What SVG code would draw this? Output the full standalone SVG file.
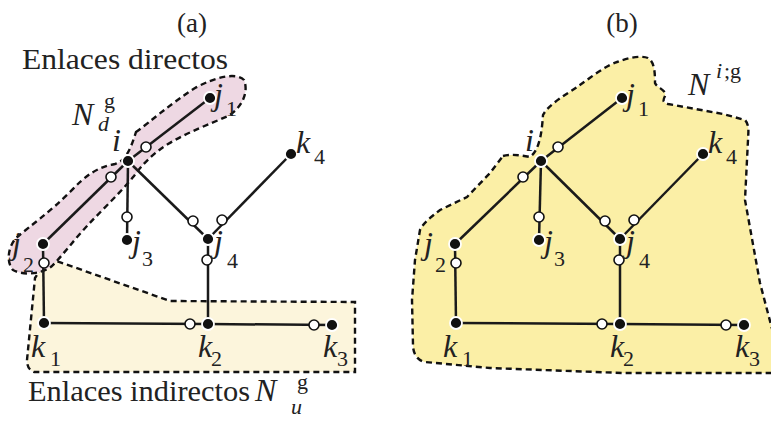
<svg xmlns="http://www.w3.org/2000/svg" width="771" height="423" viewBox="0 0 771 423">
<style>
.edge{stroke:#1a1a1a;stroke-width:2.5;fill:none}
.full{fill:#111;stroke:#fff;stroke-width:1.8}
.open{fill:#fff;stroke:#111;stroke-width:1.6}
.reg{stroke:#111;stroke-width:2.4;stroke-dasharray:6 4}
</style>
<rect width="771" height="423" fill="#fff"/>
<g id="regions">
<path class="reg" fill="#fcf5dc" d="M48,258 L170,301 L355,302 L355,372 L34,372 C29,370 27,366 27,360 L35,278 Z"/>
<path class="reg" fill="#eed8e3" d="M136,132 C150,122 170,104 195,88 C215,77 236,72 244,80 C249,92 242,108 228,116 C210,124 188,132 168,144 C152,154 142,165 134,176 C120,193 102,210 87,226 C74,240 62,256 52,266 C42,274 24,276 13,270 C6,262 8,247 16,238 C30,226 50,212 70,192 C85,176 97,167 115,164 C126,161 131,148 136,132 Z"/>
<path class="reg" fill="#fbefa6" d="M503,156 C510,154 520,155 530,157 C540,150 542,130 543,115 C548,105 565,95 577,87 C590,78 605,66 617,62 C628,58 640,55 648,58 C655,62 655,75 655,83 C657,88 667,90 665,96 C663,100 662,102 668,104 L723,114 L745,120 C750,125 748,135 748,140 L745,200 L760,283 L775,340 L775,373 L623,373 L490,368 L425,362 C416,360 413,352 413,345 L412,300 L415,260 L420,230 C424,222 430,218 440,210 L467,197 L490,173 Z"/>
</g>
<g id="connectors">
<line class="edge" x1="128" y1="161" x2="210" y2="98"/>
<line class="edge" x1="128" y1="161" x2="43" y2="244"/>
<line class="edge" x1="128" y1="161" x2="127" y2="240"/>
<line class="edge" x1="128" y1="161" x2="208" y2="239"/>
<line class="edge" x1="291" y1="154" x2="208" y2="239"/>
<line class="edge" x1="43" y1="244" x2="44" y2="323"/>
<line class="edge" x1="208" y1="239" x2="208" y2="324"/>
<line class="edge" x1="44" y1="323" x2="208" y2="324"/>
<line class="edge" x1="208" y1="324" x2="332" y2="325"/>
<line class="edge" x1="541" y1="161" x2="622" y2="98"/>
<line class="edge" x1="541" y1="161" x2="455" y2="244"/>
<line class="edge" x1="541" y1="161" x2="539" y2="240"/>
<line class="edge" x1="541" y1="161" x2="620" y2="239"/>
<line class="edge" x1="703" y1="154" x2="620" y2="239"/>
<line class="edge" x1="455" y1="244" x2="456" y2="323"/>
<line class="edge" x1="620" y1="239" x2="620" y2="324"/>
<line class="edge" x1="456" y1="323" x2="620" y2="324"/>
<line class="edge" x1="620" y1="324" x2="744" y2="325"/>
<circle class="open" cx="146" cy="147" r="5"/>
<circle class="open" cx="111" cy="177" r="5"/>
<circle class="open" cx="127" cy="217" r="5"/>
<circle class="open" cx="193" cy="221" r="5"/>
<circle class="open" cx="222" cy="220" r="5"/>
<circle class="open" cx="44" cy="263" r="5"/>
<circle class="open" cx="207" cy="260" r="5"/>
<circle class="open" cx="190" cy="324" r="5"/>
<circle class="open" cx="314" cy="325" r="5"/>
<circle class="open" cx="558" cy="147" r="5"/>
<circle class="open" cx="523" cy="177" r="5"/>
<circle class="open" cx="539" cy="217" r="5"/>
<circle class="open" cx="605" cy="221" r="5"/>
<circle class="open" cx="634" cy="220" r="5"/>
<circle class="open" cx="456" cy="263" r="5"/>
<circle class="open" cx="619" cy="260" r="5"/>
<circle class="open" cx="602" cy="324" r="5"/>
<circle class="open" cx="726" cy="325" r="5"/>
</g>
<g font-family="Liberation Serif, Times New Roman, serif" fill="#222">
<g font-style="italic" font-size="32">
<g id="a-i"><circle class="full" cx="128" cy="161" r="6"/><text x="112" y="151">i</text></g>
<g id="a-j1"><circle class="full" cx="210" cy="98" r="6"/><text x="214" y="105">j</text><text x="226" y="116" font-style="normal" font-size="22">1</text></g>
<g id="a-k4"><circle class="full" cx="291" cy="154" r="6"/><text x="296" y="153">k</text><text x="314" y="164" font-style="normal" font-size="22">4</text></g>
<g id="a-j2"><circle class="full" cx="43" cy="244" r="6"/><text x="12" y="254">j</text><text x="23" y="272" font-style="normal" font-size="22">2</text></g>
<g id="a-j3"><circle class="full" cx="127" cy="240" r="6"/><text x="132" y="252">j</text><text x="142" y="266" font-style="normal" font-size="22">3</text></g>
<g id="a-j4"><circle class="full" cx="208" cy="239" r="6"/><text x="214" y="252">j</text><text x="227" y="268" font-style="normal" font-size="22">4</text></g>
<g id="a-k1"><circle class="full" cx="44" cy="323" r="6"/><text x="31" y="357">k</text><text x="50" y="366" font-style="normal" font-size="22">1</text></g>
<g id="a-k2"><circle class="full" cx="208" cy="324" r="6"/><text x="198" y="357">k</text><text x="211" y="366" font-style="normal" font-size="22">2</text></g>
<g id="a-k3"><circle class="full" cx="332" cy="325" r="6"/><text x="323" y="357">k</text><text x="337" y="366" font-style="normal" font-size="22">3</text></g>
<g id="b-i"><circle class="full" cx="541" cy="161" r="6"/><text x="525" y="151">i</text></g>
<g id="b-j1"><circle class="full" cx="622" cy="98" r="6"/><text x="626" y="105">j</text><text x="638" y="116" font-style="normal" font-size="22">1</text></g>
<g id="b-k4"><circle class="full" cx="703" cy="154" r="6"/><text x="708" y="153">k</text><text x="726" y="164" font-style="normal" font-size="22">4</text></g>
<g id="b-j2"><circle class="full" cx="455" cy="244" r="6"/><text x="424" y="254">j</text><text x="435" y="272" font-style="normal" font-size="22">2</text></g>
<g id="b-j3"><circle class="full" cx="539" cy="240" r="6"/><text x="544" y="252">j</text><text x="554" y="266" font-style="normal" font-size="22">3</text></g>
<g id="b-j4"><circle class="full" cx="620" cy="239" r="6"/><text x="626" y="252">j</text><text x="639" y="268" font-style="normal" font-size="22">4</text></g>
<g id="b-k1"><circle class="full" cx="456" cy="323" r="6"/><text x="443" y="357">k</text><text x="462" y="366" font-style="normal" font-size="22">1</text></g>
<g id="b-k2"><circle class="full" cx="620" cy="324" r="6"/><text x="610" y="357">k</text><text x="623" y="366" font-style="normal" font-size="22">2</text></g>
<g id="b-k3"><circle class="full" cx="744" cy="325" r="6"/><text x="735" y="357">k</text><text x="749" y="366" font-style="normal" font-size="22">3</text></g>
<g id="labels-italic">
<text x="72" y="125">N</text><text x="104" y="108" font-style="normal" font-size="22">g</text><text x="98" y="131" font-size="22">d</text>
<text x="255" y="401">N</text><text x="297" y="389" font-style="normal" font-size="22">g</text><text x="291" y="414" font-size="22">u</text>
<text x="688" y="95">N</text><text x="716" y="78" font-size="22">i</text><text x="724" y="78" font-style="normal" font-size="22">;g</text>
</g>
</g>
<g id="labels" font-size="30">
<text x="192" y="32" text-anchor="middle" font-size="27">(a)</text>
<text x="622" y="32" text-anchor="middle" font-size="27">(b)</text>
<text x="22" y="69" textLength="206" lengthAdjust="spacingAndGlyphs">Enlaces directos</text>
<text x="28" y="401" textLength="222" lengthAdjust="spacingAndGlyphs">Enlaces indirectos</text>
</g>
</g>
</svg>
